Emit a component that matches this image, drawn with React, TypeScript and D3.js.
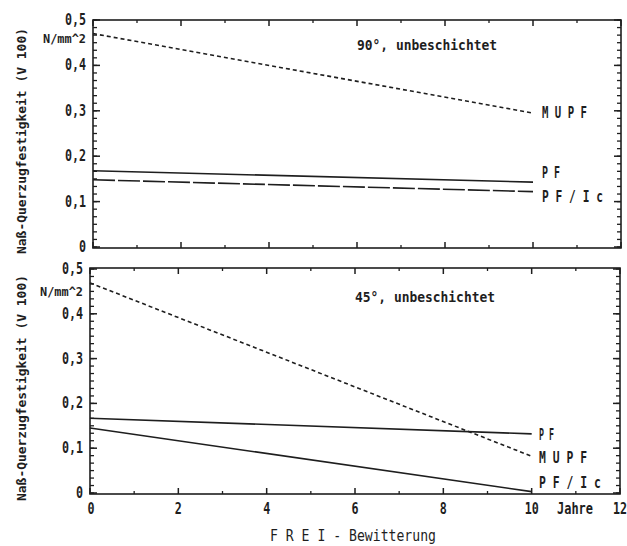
import React from 'react';
import * as d3 from 'd3';

const years = [0, 10];
const xTickValues = [0, 2, 4, 6, 8, 10, 12];
const xTickLabels = ['0', '2', '4', '6', '8', '10', '12'];
const yTickValues = [0, 0.1, 0.2, 0.3, 0.4, 0.5];
const yTickLabels = ['0', '0,1', '0,2', '0,3', '0,4', '0,5'];
const seriesLabels = ['M U P F', 'P F', 'P F / I c'];
const mupf90 = [0.47, 0.295];
const pf90 = [0.168, 0.143];
const pfic90 = [0.148, 0.122];
const mupf45 = [0.469, 0.082];
const pf45 = [0.167, 0.132];
const pfic45 = [0.145, 0.003];
const panelTitles = ['90°, unbeschichtet', '45°, unbeschichtet'];
const yUnit = 'N/mm^2';
const yTitle = 'Naß-Querzugfestigkeit (V 100)';
const xTitle = 'F R E I - Bewitterung';
const xUnit = 'Jahre';

const INK = '#1e1e1e';
const FONT = '"DejaVu Sans Mono", "Liberation Mono", monospace';

type Series = { values: number[]; dash: string; labelDy: number; labelW: number; name: string };

const panels = [
  {
    title: panelTitles[0],
    x0: 93, x1: 621, yTop: 20, yBot: 247, top: 20, bottom: 248,
    labelX: 542, titleX: 357, titleY: 45, unitY: 39,
    series: [
      { values: mupf90, dash: '4,3', labelDy: 0, labelW: 45, name: seriesLabels[0] },
      { values: pf90, dash: '', labelDy: -9, labelW: 18, name: seriesLabels[1] },
      { values: pfic90, dash: '22,3', labelDy: 5, labelW: 61, name: seriesLabels[2] },
    ] as Series[],
    showXLabels: false,
  },
  {
    title: panelTitles[1],
    x0: 90, x1: 620, yTop: 269, yBot: 493, top: 268, bottom: 494,
    labelX: 539, titleX: 355, titleY: 297, unitY: 292,
    series: [
      { values: mupf45, dash: '4,3', labelDy: 2, labelW: 48, name: seriesLabels[0] },
      { values: pf45, dash: '', labelDy: 1, labelW: 15, name: seriesLabels[1] },
      { values: pfic45, dash: '', labelDy: -9, labelW: 62, name: seriesLabels[2] },
    ] as Series[],
    showXLabels: true,
  },
];

function Panel({ p }: { p: typeof panels[number] }) {
  const x = d3.scaleLinear().domain([0, 12]).range([p.x0, p.x1]);
  const y = d3.scaleLinear().domain([0, 0.5]).range([p.yBot, p.yTop]);
  const line = d3.line<[number, number]>().x(d => x(d[0])).y(d => y(d[1]));
  const minorY = d3.range(0, 0.5001, 0.1 / 6);
  const minorX = d3.range(1, 12, 2);
  const L = p.x0, R = p.x1;
  const yTitleCenter = (p.top + p.bottom) / 2 + 7;
  return (
    <g>
      <rect x={L} y={p.top} width={R - L} height={p.bottom - p.top} fill="none" stroke={INK} strokeWidth={1.6} />
      {minorY.map((v, i) => (
        <g key={'my' + i} stroke={INK} strokeWidth={1.3}>
          <line x1={L} x2={L + 4} y1={y(v)} y2={y(v)} />
          <line x1={R} x2={R - 4} y1={y(v)} y2={y(v)} />
        </g>
      ))}
      {yTickValues.map((v, i) => (
        <g key={'Y' + i} stroke={INK} strokeWidth={1.5}>
          <line x1={L} x2={L + 7} y1={y(v)} y2={y(v)} />
          <line x1={R} x2={R - 7} y1={y(v)} y2={y(v)} />
        </g>
      ))}
      {minorX.map((v, i) => (
        <g key={'mx' + i} stroke={INK} strokeWidth={1.3}>
          <line x1={x(v)} x2={x(v)} y1={p.bottom} y2={p.bottom - 3} />
          <line x1={x(v)} x2={x(v)} y1={p.top} y2={p.top + 3} />
        </g>
      ))}
      {xTickValues.map((v, i) => (
        <g key={'X' + i} stroke={INK} strokeWidth={1.5}>
          <line x1={x(v)} x2={x(v)} y1={p.bottom} y2={p.bottom - 6} />
          <line x1={x(v)} x2={x(v)} y1={p.top} y2={p.top + 6} />
        </g>
      ))}
      {yTickValues.map((v, i) => (
        <text key={'yl' + i} transform={`translate(${L - 7},${y(v) + 5}) scale(0.78,1)`} textAnchor="end"
          fontFamily={FONT} fontSize={15} fontWeight="bold" fill={INK}>{yTickLabels[i]}</text>
      ))}
      <text x={L - 50} y={p.unitY + 4} textLength={43} lengthAdjust="spacingAndGlyphs"
        fontFamily={FONT} fontSize={12} fontWeight="bold" fill={INK}>{yUnit}</text>
      <text transform={`translate(21,${yTitleCenter}) rotate(-90)`} x={-113} y={5} textLength={226}
        lengthAdjust="spacingAndGlyphs" fontFamily={FONT} fontSize={13} fontWeight="bold" fill={INK}>{yTitle}</text>
      <text x={p.titleX} y={p.titleY + 5} textLength={140} lengthAdjust="spacingAndGlyphs"
        fontFamily={FONT} fontSize={14} fontWeight="bold" fill={INK}>{p.title}</text>
      {p.series.map((s, i) => (
        <g key={'s' + i}>
          <path d={line(years.map((yr, j) => [yr, s.values[j]] as [number, number])) || ''}
            fill="none" stroke={INK} strokeWidth={1.6} strokeDasharray={s.dash || undefined} />
          <text x={p.labelX} y={y(s.values[1]) + s.labelDy + 5} textLength={s.labelW} lengthAdjust="spacingAndGlyphs"
            fontFamily={FONT} fontSize={15} fontWeight="bold" fill={INK}>{s.name}</text>
        </g>
      ))}
      {p.showXLabels && xTickValues.map((v, i) => (
        <text key={'xl' + i} transform={`translate(${x(v) + (v === 0 ? 1 : 0)},${p.bottom + 20}) scale(0.78,1)`}
          textAnchor="middle" fontFamily={FONT} fontSize={15} fontWeight="bold" fill={INK}>{xTickLabels[i]}</text>
      ))}
      {p.showXLabels && (
        <text x={557} y={p.bottom + 20} textLength={36} lengthAdjust="spacingAndGlyphs"
          fontFamily={FONT} fontSize={15} fill={INK} fontWeight="bold">{xUnit}</text>
      )}
      {p.showXLabels && (
        <text x={270} y={p.bottom + 47} textLength={166} lengthAdjust="spacingAndGlyphs"
          fontFamily={FONT} fontSize={15} fill={INK}>{xTitle}</text>
      )}
    </g>
  );
}

export default function App() {
  return (
    <svg width={627} height={546} style={{ position: 'absolute', left: 0, top: 0, background: '#fff' }}>
      <rect x={0} y={0} width={627} height={546} fill="#fff" />
      {panels.map((p, i) => <Panel key={i} p={p} />)}
    </svg>
  );
}
